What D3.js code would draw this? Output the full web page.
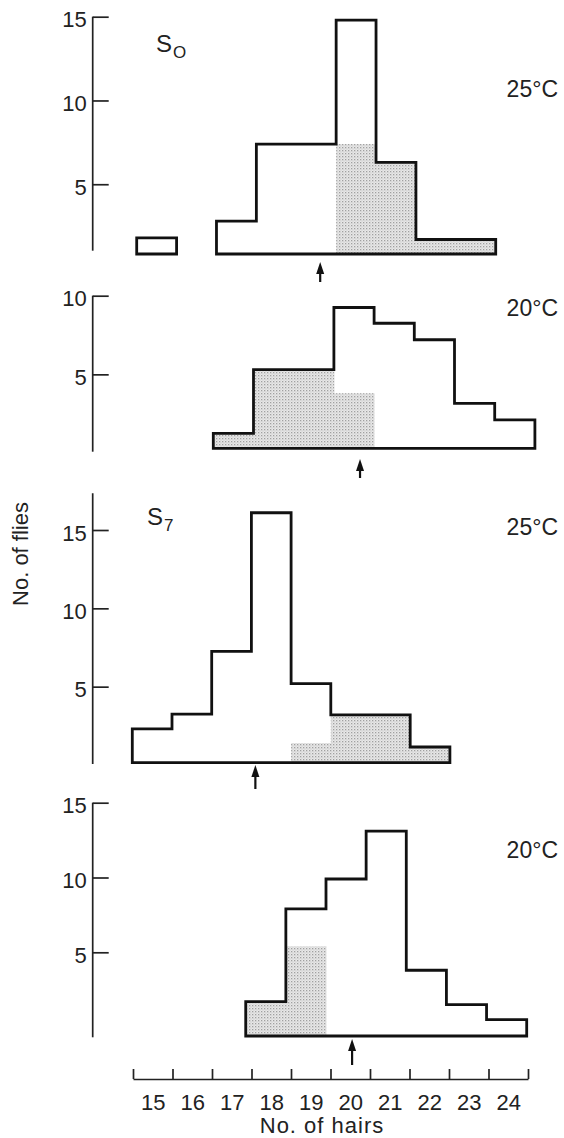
<!DOCTYPE html>
<html>
<head>
<meta charset="utf-8">
<script src="https://cdn.jsdelivr.net/npm/d3@7"></script>
<style>
  body { margin: 0; background: #fff; }
  svg { display: block; }
  text { font-family: "Liberation Sans", Arial, Helvetica, sans-serif; fill: #222; }
  .tick text { font-size: 22px; }
  .outline { fill: none; stroke: #111; stroke-width: 2.8px; stroke-linejoin: miter; }
</style>
</head>
<body>
<svg id="chart" width="564" height="1138"></svg>
<script>
// number of hairs (bin centres)
var bins = [15, 16, 17, 18, 19, 20, 21, 22, 23, 24];

// no. of flies per bin
var s0At25 = [1.8, 0, 2.8, 7.4, 7.4, 14.8, 6.3, 1.7, 1.7, 0];
var s0At25Shaded = [0, 0, 0, 0, 0, 7.4, 6.3, 1.7, 1.7, 0];
var s0At20 = [0, 0, 1.25, 5.3, 5.3, 9.25, 8.25, 7.2, 3.15, 2.1];
var s0At20Shaded = [0, 0, 1.25, 5.3, 5.3, 3.8, 0, 0, 0, 0];
var s7At25 = [2.3, 3.25, 7.25, 16.1, 5.2, 3.2, 3.2, 1.15, 0, 0];
var s7At25Shaded = [0, 0, 0, 0, 1.4, 3.2, 3.2, 1.15, 0, 0];
var s7At20 = [0, 0, 0, 1.7, 7.9, 9.9, 13.1, 3.8, 1.5, 0.5];
var s7At20Shaded = [0, 0, 0, 1.7, 5.4, 0, 0, 0, 0, 0];

// arrows (means)
var means = [19.1, 20.15, 17.6, 20.15];
var strains = ["S", "", "S", ""];
var strainSubs = ["O", "", "7", ""];
var temps = ["25°C", "20°C", "25°C", "20°C"];
var yTicks = [[5, 10, 15], [5, 10], [5, 10, 15], [5, 10, 15]];

var counts = [s0At25, s0At20, s7At25, s7At20];
var shaded = [s0At25Shaded, s0At20Shaded, s7At25Shaded, s7At20Shaded];

// hand-drawn panels: each one has its own placement
var layout = [
  {x0: 136.7, x1: 535.6, y0: 268, yTop: 16.7, top: 15, axisTop: 16.7, axisBottom: 250.7, base: 254, arrow: [262, 282], tempY: 97, strainY: 52, strainX: 156},
  {x0: 132.9, x1: 534.9, y0: 453, yTop: 295.7, top: 10, axisTop: 295.7, axisBottom: 451.7, base: 448.3, arrow: [459, 478], tempY: 316},
  {x0: 132.3, x1: 529.3, y0: 765, yTop: 530, top: 15, axisTop: 493.3, axisBottom: 764, base: 762.7, arrow: [765, 789], tempY: 535, strainY: 525, strainX: 147},
  {x0: 125.3, x1: 526.7, y0: 1027.1, yTop: 802.7, top: 15, axisTop: 802.7, axisBottom: 1037.3, base: 1036, arrow: [1039, 1065], tempY: 858}
];

var svg = d3.select("#chart");

var defs = svg.append("defs");
var pat = defs.append("pattern")
  .attr("id", "stipple")
  .attr("width", 3)
  .attr("height", 3)
  .attr("patternUnits", "userSpaceOnUse");
pat.append("rect").attr("width", 3).attr("height", 3).attr("fill", "#e8e8e8");
pat.append("rect").attr("width", 1.3).attr("height", 1.3).attr("fill", "#a0a0a0");
pat.append("rect").attr("x", 1.5).attr("y", 1.5).attr("width", 1).attr("height", 1).attr("fill", "#bdbdbd");

function histPath(x, y, base, values) {
  var d = "";
  var open = false;
  values.forEach(function(v, i) {
    var b = bins[i];
    if (v > 0) {
      if (!open) {
        d += "M" + x(b - 0.5) + "," + base;
        open = true;
      }
      d += "L" + x(b - 0.5) + "," + y(v) + "L" + x(b + 0.5) + "," + y(v);
    }
    if (open && (v <= 0 || i == values.length - 1)) {
      var end = v > 0 ? b + 0.5 : b - 0.5;
      d += "L" + x(end) + "," + base + "Z";
      open = false;
    }
  });
  return d;
}

layout.forEach(function(p, k) {
  var x = d3.scaleLinear().domain([14.5, 24.5]).range([p.x0, p.x1]);
  var y = d3.scaleLinear().domain([0, p.top]).range([p.y0, p.yTop]);
  var g = svg.append("g");

  // y axis
  g.append("line")
    .attr("x1", 92.7).attr("x2", 92.7)
    .attr("y1", p.axisTop).attr("y2", p.axisBottom)
    .attr("stroke", "#222").attr("stroke-width", 1.7);

  var ax = g.append("g")
    .attr("transform", "translate(92.7,0)")
    .call(d3.axisLeft(y).tickValues(yTicks[k]).tickSizeInner(-16).tickSizeOuter(0).tickPadding(6));
  ax.select(".domain").remove();
  ax.selectAll(".tick line").attr("stroke", "#222").attr("stroke-width", 1.7);
  ax.selectAll(".tick text").attr("dy", "0.46em").attr("fill", "#222");

  // shaded part
  g.selectAll("rect.shade")
    .data(shaded[k].map(function(v, i) { return {bin: bins[i], v: v}; }).filter(function(d) { return d.v > 0; }))
    .enter().append("rect")
    .attr("class", "shade")
    .attr("x", function(d) { return x(d.bin - 0.5); })
    .attr("width", function(d) { return x(d.bin + 0.5) - x(d.bin - 0.5) + 0.5; })
    .attr("y", function(d) { return y(d.v); })
    .attr("height", function(d) { return p.base - y(d.v); })
    .attr("fill", "url(#stipple)");

  // outline
  g.append("path")
    .attr("class", "outline")
    .attr("d", histPath(x, y, p.base, counts[k]));

  // arrow at the mean
  var ma = x(means[k]);
  g.append("line")
    .attr("x1", ma).attr("x2", ma)
    .attr("y1", p.arrow[0] + 8).attr("y2", p.arrow[1])
    .attr("stroke", "#111").attr("stroke-width", 2.2);
  g.append("path")
    .attr("d", "M" + ma + "," + p.arrow[0] + "L" + (ma - 4) + "," + (p.arrow[0] + 12) + "L" + (ma + 4) + "," + (p.arrow[0] + 12) + "Z")
    .attr("fill", "#111");

  // labels
  g.append("text")
    .attr("x", 558).attr("y", p.tempY)
    .attr("text-anchor", "end")
    .style("font-size", "23px")
    .text(temps[k]);

  if (strains[k]) {
    var t = g.append("text")
      .attr("x", p.strainX).attr("y", p.strainY)
      .style("font-size", "24px");
    t.append("tspan").text(strains[k]);
    t.append("tspan").attr("dx", 1).attr("dy", 6).style("font-size", "17px").text(strainSubs[k]);
  }
});

// bottom axis: no. of hairs
var xAxisScale = d3.scaleLinear().domain([14.5, 24.5]).range([133, 528]);
var edges = bins.map(function(b) { return b - 0.5; }).concat([24.5]);

var xa = svg.append("g")
  .attr("transform", "translate(0,1079)")
  .call(d3.axisBottom(xAxisScale).tickValues(edges).tickFormat("").tickSizeInner(-10).tickSizeOuter(0));
xa.select(".domain").attr("stroke", "#222").attr("stroke-width", 1.7);
xa.selectAll(".tick line").attr("stroke", "#222").attr("stroke-width", 1.7);

var xl = svg.append("g")
  .attr("transform", "translate(0,1079)")
  .call(d3.axisBottom(xAxisScale).tickValues(bins).tickSize(0).tickPadding(15));
xl.select(".domain").remove();
xl.selectAll(".tick text").attr("fill", "#222");

svg.append("text")
  .attr("x", 322).attr("y", 1133)
  .attr("text-anchor", "middle")
  .style("font-size", "22px")
  .style("letter-spacing", "1px")
  .text("No. of hairs");

svg.append("text")
  .attr("transform", "translate(28,554) rotate(-90)")
  .attr("text-anchor", "middle")
  .style("font-size", "22px")
  .text("No. of flies");
</script>
</body>
</html>
